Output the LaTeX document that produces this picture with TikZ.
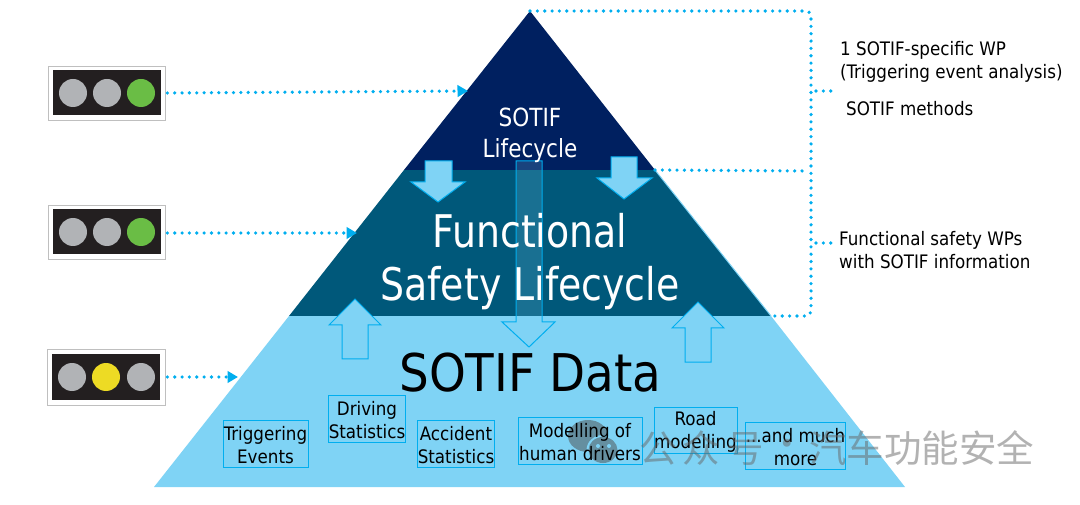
\documentclass[tikz,border=0pt]{standalone}
\usepackage{fontspec}
\setmainfont{DejaVu Sans Condensed}
\newfontfamily\cjkwm{Noto Sans CJK SC}
\usetikzlibrary{arrows.meta}
\definecolor{navyc}{HTML}{002060}
\definecolor{tealc}{HTML}{00587A}
\definecolor{lightc}{HTML}{7FD3F5}
\definecolor{cyanc}{HTML}{00AEEF}
\definecolor{darkbox}{HTML}{231F20}
\definecolor{lampoff}{HTML}{B1B3B6}
\definecolor{lampgreen}{HTML}{6ABD45}
\definecolor{lampyellow}{HTML}{EDDB24}
\newcommand{\pushdown}{\rule{0pt}{17.5pt}}
\tikzset{
 dotline/.style={cyanc,line width=3.6pt,line cap=round,dash pattern=on 0pt off 7.35pt},
 dotarrow/.style={dotline,-{Triangle[length=10.5pt,width=11.5pt,fill=cyanc]}},
 blockarrow/.style={draw=cyanc,line width=1pt,fill=lightc,line join=miter},
 tbox/.style={draw=cyanc,line width=1pt,inner sep=0pt,align=center,text=black,font=\fontsize{18.6}{23}\selectfont},
 rlabel/.style={anchor=west,inner sep=0pt,align=left,text=black,font=\fontsize{18.6}{23}\selectfont},
 lightframe/.style={draw=black!25,line width=0.7pt,fill=white,inner sep=0pt},
 lightbody/.style={fill=darkbox,draw=none,inner sep=0pt,minimum width=108pt,minimum height=45pt},
 lamp/.style={circle,draw=none,inner sep=0pt,minimum size=28pt},
}
\begin{document}
\begin{tikzpicture}[x=1pt,y=-1pt]
\useasboundingbox (0,0) rectangle (1080,505);
% pyramid
\coordinate (apex) at (530,11);
\coordinate (midL) at (404,170);
\coordinate (midR) at (655,170);
\coordinate (lowL) at (289,316);
\coordinate (lowR) at (771,316);
\coordinate (baseL) at (154,487);
\coordinate (baseR) at (905,487);
\fill[lightc] (lowL) -- (lowR) -- (baseR) -- (baseL) -- cycle;
\fill[tealc] (midL) -- (midR) -- (lowR) -- (lowL) -- cycle;
\fill[navyc] (apex) -- (midR) -- (midL) -- cycle;
\draw[lightc,line width=1pt] (midR) -- (lowR);
% block arrows
\draw[blockarrow] (425,161) -- (452,161) -- (452,182) -- (465,182) -- (438,202) -- (411,182) -- (425,182) -- cycle;
\draw[blockarrow] (611,157) -- (637,157) -- (637,178) -- (652,178) -- (624,199) -- (597,178) -- (611,178) -- cycle;
\draw[blockarrow] (355,299) -- (381,325) -- (368,325) -- (368,359) -- (342,359) -- (342,325) -- (329,325) -- cycle;
\draw[blockarrow] (698,302) -- (724,328) -- (711,328) -- (711,362) -- (685,362) -- (685,328) -- (672,328) -- cycle;
\draw[cyanc,line width=1pt,fill=lightc,fill opacity=0.2] (516,161) -- (542,161) -- (542,322) -- (555,322) -- (529,347) -- (502,322) -- (516,322) -- cycle;
% titles
\node[text=white,inner sep=0pt,align=center,xscale=0.96,font=\fontsize{25}{31}\selectfont] (tsotif) at (530,135.5) {SOTIF\\Lifecycle};
\node[text=white,inner sep=0pt,align=center,xscale=0.935,font=\fontsize{45}{53}\selectfont] (tfs) at (530,262) {Functional\\Safety Lifecycle};
\node[text=black,inner sep=0pt,font=\fontsize{52}{60}\selectfont] (tdata) at (530.5,372.5) {SOTIF Data};
% watermark icon, under the box texts
\fill[black!70,opacity=0.5] (588,436) ellipse (20pt and 16pt);
\fill[lightc] (603,450) ellipse (16.5pt and 15pt);
\fill[black!70,opacity=0.5] (603,450) ellipse (14.5pt and 13pt);
\fill[lightc] (598,446) circle (2pt) (609,446) circle (2pt);
% data boxes
\node[tbox,minimum width=85pt,minimum height=47pt] (b1) at (265.5,443.5) {\pushdown Triggering\\Events};
\node[tbox,minimum width=76pt,minimum height=47pt] (b2) at (367,418.5) {\pushdown Driving\\Statistics};
\node[tbox,minimum width=76pt,minimum height=47pt] (b3) at (456,443.5) {\pushdown Accident\\Statistics};
\node[tbox,minimum width=124pt,minimum height=47pt] (b4) at (580,440.5) {\pushdown Modelling of\\human drivers};
\node[tbox,minimum width=83pt,minimum height=46pt] (b5) at (695.5,430) {\pushdown Road\\modelling};
\node[tbox,minimum width=99pt,minimum height=47pt] (b6) at (795.5,445.5) {\pushdown ...and much\\more};
% traffic lights
\node[lightframe,minimum width=117pt,minimum height=54pt] (tl1) at (106.5,93) {};
\node[lightbody] (tl1b) at (107,93) {};
\node[lamp,fill=lampoff] (l11) at (73,93) {};
\node[lamp,fill=lampoff] (l12) at (107,93) {};
\node[lamp,fill=lampgreen] (l13) at (141,93) {};
\node[lightframe,minimum width=117pt,minimum height=54pt] (tl2) at (106.5,232) {};
\node[lightbody] (tl2b) at (107,232) {};
\node[lamp,fill=lampoff] (l21) at (73,232) {};
\node[lamp,fill=lampoff] (l22) at (107,232) {};
\node[lamp,fill=lampgreen] (l23) at (141,232) {};
\node[lightframe,minimum width=118pt,minimum height=56pt] (tl3) at (106,377) {};
\node[lightbody] (tl3b) at (106,377) {};
\node[lamp,fill=lampoff] (l31) at (72,377) {};
\node[lamp,fill=lampyellow] (l32) at (106,377) {};
\node[lamp,fill=lampoff] (l33) at (141,377) {};
% dotted arrows
\coordinate (in1) at (468,91);
\coordinate (in2) at (357,233);
\coordinate (in3) at (238,377);
\draw[dotarrow] (tl1.east) ++(2,0) -- (in1);
\draw[dotarrow] (tl2.east) ++(2,1) -- (in2);
\draw[dotarrow] (tl3.east) ++(2,0) -- (in3);
% bracket
\coordinate (brtop) at (811,11);
\coordinate (brmid) at (809,171);
\coordinate (brbot) at (811,316);
\coordinate (t1a) at (816,91);
\coordinate (t1b) at (833,91);
\coordinate (t2a) at (816,243);
\coordinate (t2b) at (833,243);
\draw[dotline,rounded corners=5pt] (apex) -- (brtop) -- (brbot) -- (lowR);
\draw[dotline] (midR) -- (brmid);
\draw[dotline] (t1a) -- (t1b);
\draw[dotline] (t2a) -- (t2b);
% labels
\node[rlabel] (r1) at (840,62) {1 SOTIF-specific WP\\(Triggering event analysis)};
\node[rlabel] (r2) at (846,109) {SOTIF methods};
\node[rlabel] (r3) at (839,250.5) {Functional safety WPs\\with SOTIF information};
% watermark text
\begin{scope}[opacity=0.5]
\node[anchor=west,inner sep=0pt,text=black!60,font=\cjkwm\fontsize{37.5}{40}\selectfont] (wm1) at (639,448) {公\hspace{6pt}众\hspace{6pt}号};
\node[anchor=center,inner sep=0pt,text=black!60,font=\cjkwm\fontsize{37.5}{40}\selectfont] (wm2) at (787,448) {·};
\node[anchor=west,inner sep=0pt,text=black!60,font=\cjkwm\fontsize{37.5}{40}\selectfont] (wm3) at (809,448) {汽车功能安全};
\end{scope}
\end{tikzpicture}
\end{document}
